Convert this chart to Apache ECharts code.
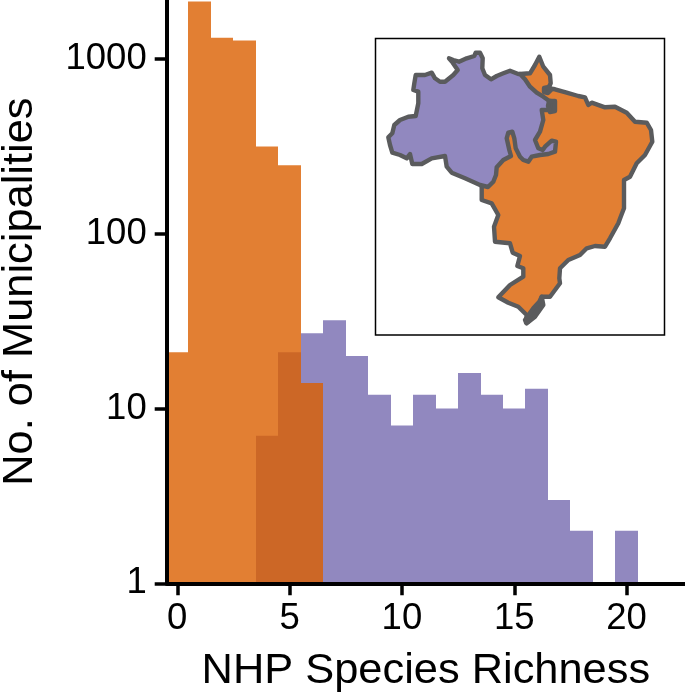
<!DOCTYPE html>
<html><head><meta charset="utf-8">
<style>html,body{margin:0;padding:0;background:#fff}#c{width:685px;height:693px}</style>
<script src="https://cdn.jsdelivr.net/npm/echarts@6/dist/echarts.min.js"></script>
</head><body><div id="c"></div>
<script>
const xTicks = [0, 5, 10, 15, 20];
const yTicks = [1, 10, 100, 1000];
const orangeBins = [0, 1, 2, 3, 4, 5, 6];
const orangeCounts = [21, 2134, 1327, 1280, 316, 247, 14];
const purpleBins = [4, 5, 6, 7, 8, 9, 10, 11, 12, 13, 14, 15, 16, 17, 18, 20];
const purpleCounts = [7, 21, 27, 32, 20, 12, 8, 12, 10, 16, 12, 10, 13, 3, 2, 2];
const xName = 'NHP Species Richness';
const yName = 'No. of Municipalities';
const orangeRegion = [[520,74],[530,73.3],[535,65],[539.3,56.7],[543.3,66.7],[550,75],[550.7,83.3],[548.3,88.3],[555,89.3],[566.7,92.7],[578.3,96],[585,97.3],[588.3,105],[591.7,102.7],[605,107.3],[615,106.7],[626.7,112.7],[635,121.7],[646.7,122.7],[651,130],[652.3,141.7],[645,155],[636.7,163.3],[630,176.7],[624,180],[624,196.7],[624,208.3],[621,216],[618.3,223.3],[610,238.3],[605,246.7],[595,246],[586.7,248.3],[580,255],[568.3,260],[560,268.3],[559.3,278.3],[560,283.3],[550,296.7],[541.7,296.7],[540,303.3],[533.3,313.3],[528.3,321.7],[526,322.7],[526.7,315],[518.3,306.7],[508.3,302.7],[498.3,297.3],[510,285],[523.3,276.7],[523.3,268.3],[517.3,266],[520,256],[512.7,252.7],[510,243.3],[495,241.7],[494,226.7],[498.3,215],[491.7,203.3],[481.7,200],[481.7,185],[470,170],[495,125],[525,110],[525,85]];
const purpleRegion = [[520,74],[518.3,74],[510,70.7],[503.3,73.3],[496.7,76],[491,79.3],[485,75],[482.3,68.3],[482.7,58.3],[480,52.7],[475.7,52.7],[474.3,56],[466.7,58.3],[459,61.7],[453.3,60],[449,58.3],[452.7,62.7],[457.7,70],[453.3,75],[445,81.7],[440,81.7],[435,78.3],[431.7,72.7],[425,75],[415.7,75],[414.3,83.3],[413.3,90],[418.3,91.7],[418.3,103.3],[415.7,116],[408.3,116.7],[400,120],[394.3,125],[392.3,133.3],[388.3,137.3],[390,145],[392.3,152.7],[400,155],[406.7,158.3],[410,154],[412.3,164],[421.7,164],[431.7,158.3],[445,156],[446.7,166.7],[451.7,172.7],[465,178.3],[480,185],[488,187],[493.3,181.7],[496,175],[496.7,167.3],[503.3,160],[511,156],[509.3,150],[506.7,138.3],[508.3,132.7],[512.3,131.7],[514.3,138.3],[515.7,148.3],[520,156.7],[523.3,160],[528.3,161.7],[531.7,156.7],[540,155],[548.3,154],[555,151.7],[556,141.7],[551.7,140.7],[545,146.7],[542.7,150],[538.3,148.3],[535,140],[540,131.7],[543.3,120],[541.7,110],[550,110],[554,106.7],[554,101.7],[549,100.7],[543.3,96.7],[536.7,92.7],[530,86.7],[525,79.3]];
const lagoon = [[541.7,296.7],[543.3,305],[535,316.7],[526.7,323.3],[525,320],[533.3,308.3],[539.3,301.7]];
const islandNorth = [[544,88],[549,87],[551,90],[548,93],[544,92]];
const islandSouth = [[549,101],[555,101],[555,111],[550,112],[548,106]];
const ORANGE = 'rgba(219,95,0,0.8)', PURPLE = '#9188BF', MAPO = '#E27F33', OUTLINE = '#5A5B5D';
const font = '"Liberation Sans", Arial, sans-serif';

function bars(bins, counts, color, z) {
  return {
    type: 'custom', xAxisIndex: 0, yAxisIndex: 0, z, clip: true,
    data: bins.map((b, i) => [b, counts[i]]),
    renderItem(p, api) {
      const a = api.coord([api.value(0) - 0.5, api.value(1)]);
      const b = api.coord([api.value(0) + 0.5, 1]);
      const x0 = Math.round(a[0]), x1 = Math.round(b[0]);
      return { type: 'rect', shape: { x: x0, y: a[1], width: x1 - x0, height: b[1] - a[1] }, style: { fill: color } };
    }
  };
}
function region(points, fill, z) {
  return {
    type: 'custom', xAxisIndex: 1, yAxisIndex: 1, z, clip: true,
    coordinateSystem: 'cartesian2d',
    data: [[0, 0]],
    renderItem(p, api) {
      return { type: 'polygon', shape: { points: points.map(q => api.coord(q)) },
        style: { fill, stroke: OUTLINE, lineWidth: 4.4, lineJoin: 'round' } };
    }
  };
}
const chart = echarts.init(document.getElementById('c'), null, { renderer: 'canvas' });
chart.setOption({
  animation: false,
  backgroundColor: '#fff',
  grid: [
    { left: 166.7, right: 0, top: 0, bottom: 109.7, outerBoundsMode: 'none' },
    { left: 375.5, top: 38.5, width: 289, height: 296.5, show: true, borderColor: '#000', borderWidth: 1.5, backgroundColor: 'transparent', z: 5, outerBoundsMode: 'none' }
  ],
  xAxis: [
    { type: 'value', gridIndex: 0, min: -0.47, max: 22.6, z: 10,
      name: xName, nameLocation: 'middle', nameGap: 66,
      nameTextStyle: { fontFamily: font, fontSize: 43.4, color: '#000' },
      axisLine: { onZero: false, lineStyle: { color: '#000', width: 4 } },
      axisTick: { length: 12, lineStyle: { color: '#000', width: 3.5 }, customValues: xTicks },
      axisLabel: { margin: 17, fontFamily: font, fontSize: 36.5, color: '#000', customValues: xTicks },
      splitLine: { show: false } },
    { type: 'value', gridIndex: 1, min: 375.5, max: 664.5, show: false }
  ],
  yAxis: [
    { type: 'log', logBase: 10, gridIndex: 0, min: 1, max: 2180, z: 10,
      name: yName, nameLocation: 'middle', nameGap: 125,
      nameTextStyle: { fontFamily: font, fontSize: 43.4, color: '#000' },
      axisLine: { onZero: false, lineStyle: { color: '#000', width: 4 } },
      axisTick: { length: 12, lineStyle: { color: '#000', width: 3.5 }, customValues: yTicks },
      axisLabel: { margin: 20, fontFamily: font, fontSize: 36.5, color: '#000', customValues: yTicks, formatter: v => String(v) },
      minorTick: { show: false }, splitLine: { show: false } },
    { type: 'value', gridIndex: 1, min: 38.5, max: 335, inverse: true, show: false }
  ],
  series: [
    bars(purpleBins, purpleCounts, PURPLE, 2),
    bars(orangeBins, orangeCounts, ORANGE, 3),
    region(orangeRegion, MAPO, 6),
    region(purpleRegion, PURPLE, 7),
    region(lagoon, OUTLINE, 8),
    region(islandNorth, OUTLINE, 8),
    region(islandSouth, OUTLINE, 8)
  ]
});
</script></body></html>
